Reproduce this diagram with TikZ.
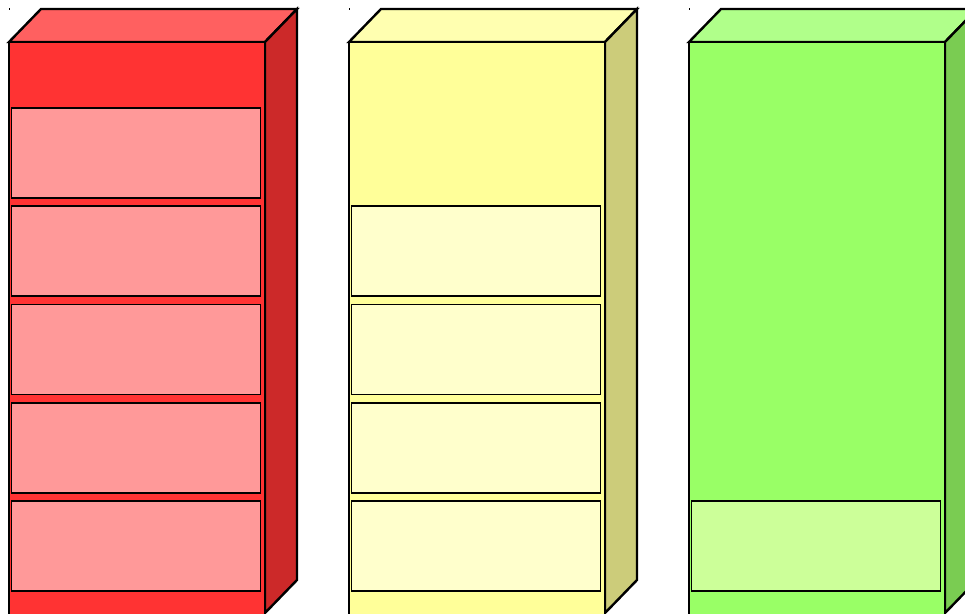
\documentclass[tikz,border=0pt]{standalone}
\definecolor{rfront}{HTML}{FF3333}
\definecolor{rtop}{HTML}{FF6060}
\definecolor{rside}{HTML}{CC2929}
\definecolor{rdrawer}{HTML}{FF9999}
\definecolor{yfront}{HTML}{FFFF99}
\definecolor{ytop}{HTML}{FFFFB0}
\definecolor{yside}{HTML}{CCCC7A}
\definecolor{ydrawer}{HTML}{FFFFCC}
\definecolor{gfront}{HTML}{99FF66}
\definecolor{gtop}{HTML}{B0FF8A}
\definecolor{gside}{HTML}{7ACC52}
\definecolor{gdrawer}{HTML}{CCFF99}
\tikzset{
  edge/.style={draw=black, line width=2.4pt, line join=miter},
  drawerbox/.style={draw=black, line width=1.5pt},
}
\newcommand{\cabinet}[4]{% x offset, front, top, side
  \filldraw[edge, fill=#3] (#1,42) -- (#1+32,9) -- (#1+288,9) -- (#1+256,42) -- cycle;
  \filldraw[edge, fill=#4] (#1+256,42) -- (#1+288,9) -- (#1+288,580) -- (#1+256,613) -- cycle;
  \filldraw[edge, fill=#2] (#1,42) rectangle (#1+256,640);
  \fill[black] (#1-0.5,8) rectangle (#1+1,10);
}
\newcommand{\drawer}[3]{% x offset, top y, fill
  \filldraw[drawerbox, fill=#3] (#1+2.5,#2) rectangle (#1+251.5,#2+90);
}
\begin{document}
\begin{tikzpicture}[x=1pt,y=-1pt]
\useasboundingbox (0,0) rectangle (965,613);
\clip (0,0) rectangle (965,613);
\cabinet{9}{rfront}{rtop}{rside}
\foreach \y in {108,206,304.5,403,501} {\drawer{9}{\y}{rdrawer}}
\cabinet{349}{yfront}{ytop}{yside}
\foreach \y in {206,304.5,403,501} {\drawer{349}{\y}{ydrawer}}
\cabinet{689}{gfront}{gtop}{gside}
\drawer{689}{501}{gdrawer}
\end{tikzpicture}
\end{document}
